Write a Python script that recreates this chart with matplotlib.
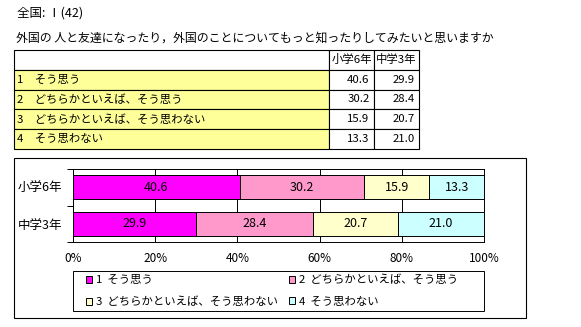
import matplotlib
matplotlib.use("Agg")
import matplotlib.pyplot as plt
from matplotlib.patches import Rectangle, Patch
from matplotlib.table import Table
import numpy as np

plt.rcParams["font.family"] = ["Noto Sans CJK JP", "DejaVu Sans"]

title = "全国: Ⅰ(42)"
question = "外国の 人と友達になったり，外国のことについてもっと知ったりしてみたいと思いますか"
answers = ["1　そう思う", "2　どちらかといえば、そう思う",
           "3　どちらかといえば、そう思わない", "4　そう思わない"]
groups = ["小学6年", "中学3年"]
shou6 = [40.6, 30.2, 15.9, 13.3]
chu3 = [29.9, 28.4, 20.7, 21.0]
colors = ["#FF00FF", "#FF99CC", "#FFFFCC", "#CCFFFF"]

W, H = 581, 327
fig = plt.figure(figsize=(W / 100, H / 100), dpi=100)


def fx(px):
    return px / W


def fy(py):
    return 1 - py / H


fig.text(fx(17), fy(13), title, fontsize=9, va="center", ha="left")
fig.text(fx(16), fy(38), question, fontsize=8.6, va="center", ha="left")

# table
tax = fig.add_axes([fx(14), fy(149), fx(419) - fx(14), fy(50) - fy(149)])
tax.axis("off")
tb = Table(tax, bbox=[0, 0, 1, 1])
widths = [315, 45, 45]
header = ["", groups[0], groups[1]]
for j, txt in enumerate(header):
    tb.add_cell(0, j, widths[j], 1, text=txt, loc="center",
                facecolor="white", edgecolor="black")
for i, a in enumerate(answers):
    c = tb.add_cell(i + 1, 0, widths[0], 1, text=a, loc="left",
                    facecolor="#FFFF99", edgecolor="black")
    c.PAD = 0.01
    tb.add_cell(i + 1, 1, widths[1], 1, text=f"{shou6[i]:.1f}", loc="right",
                facecolor="white", edgecolor="black")
    tb.add_cell(i + 1, 2, widths[2], 1, text=f"{chu3[i]:.1f}", loc="right",
                facecolor="white", edgecolor="black")
tb.auto_set_font_size(False)
tb.set_fontsize(8.2)
for cell in tb.get_celld().values():
    cell.set_linewidth(0.8)
tax.add_table(tb)

# chart frame and legend frame
fig.patches.append(Rectangle((fx(14), fy(318)), fx(526) - fx(14), fy(158) - fy(318),
                             transform=fig.transFigure, fill=False,
                             edgecolor="black", linewidth=0.8))
fig.patches.append(Rectangle((fx(73), fy(311)), fx(484) - fx(73), fy(271) - fy(311),
                             transform=fig.transFigure, fill=False,
                             edgecolor="black", linewidth=0.7))

ax = fig.add_axes([fx(73), fy(242), fx(484) - fx(73), fy(169) - fy(242)])
data = np.array([shou6, chu3])
y = np.arange(len(groups))
left = np.zeros(len(groups))
handles = []
for k in range(len(answers)):
    bars = ax.barh(y, data[:, k], left=left, height=0.65, color=colors[k],
                   edgecolor="black", linewidth=0.7, zorder=3)
    for b, v in zip(bars, data[:, k]):
        ax.text(b.get_x() + b.get_width() / 2, b.get_y() + b.get_height() / 2,
                f"{v:.1f}", ha="center", va="center", fontsize=9, zorder=4)
    left += data[:, k]
    handles.append(Patch(facecolor=colors[k], edgecolor="black", linewidth=0.7))

ax.set_xlim(0, 100)
ax.set_ylim(1.5, -0.5)
ax.set_xticks(range(0, 101, 20))
ax.set_xticklabels([f"{t}%" for t in range(0, 101, 20)], fontsize=8.5)
ax.set_yticks(y)
ax.set_yticklabels(groups, fontsize=9)
ax.set_yticks([-0.5, 0.5, 1.5], minor=True)
ax.tick_params(axis="y", which="major", length=0, pad=8)
ax.tick_params(axis="y", which="minor", length=4, width=0.7, direction="out")
ax.tick_params(axis="x", length=0, pad=7)
ax.grid(axis="x", color="black", linewidth=0.7, zorder=0)
for s in ax.spines.values():
    s.set_linewidth(0.7)

order = [0, 2, 1, 3]
fig.legend([handles[i] for i in order],
           [answers[i].replace("　", "  ") for i in order], ncols=2,
           loc="center left", bbox_to_anchor=(fx(86), fy(291)),
           fontsize=8.2, frameon=False, borderaxespad=0, borderpad=0,
           handlelength=0.55, handleheight=0.55, handletextpad=0.3,
           labelspacing=1.0, columnspacing=1.0)

fig.savefig("out.png", dpi=100)
